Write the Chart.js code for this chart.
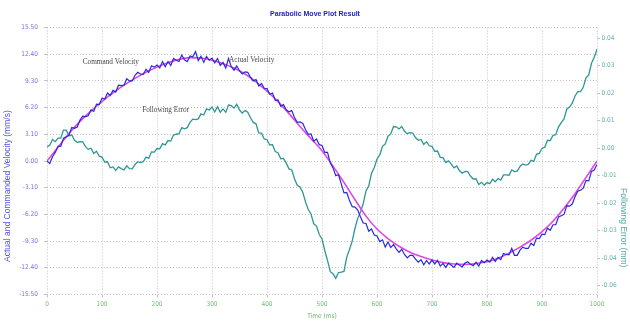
<!DOCTYPE html>
<html><head><meta charset="utf-8">
<script src="https://cdn.jsdelivr.net/npm/chart.js@4.4.1/dist/chart.umd.min.js"></script>
<style>html,body{margin:0;padding:0;background:#fff;overflow:hidden}canvas{display:block}</style>
</head><body><canvas id="c" width="630" height="321"></canvas>
<script>
// ---------- data ----------
const chartTitle = "Parabolic Move Plot Result";
const xAxisTitle = "Time (ms)";
const leftAxisTitle = "Actual and Commanded Velocity (mm/s)";
const rightAxisTitle = "Following Error (mm)";

const commandStepMs = 20;
const commandVelocity = [0, 1.6, 3.2, 4.6, 5.8, 6.9, 7.9, 8.8, 9.6, 10.3, 10.9, 11.4, 11.8, 12.0, 11.95, 11.7, 11.3, 10.8, 10.1, 9.2,
  8.1, 6.9, 5.5, 4.0, 2.6, 1.2, -0.6, -2.5, -4.5, -6.4, -7.9, -9.0, -9.9, -10.6, -11.1, -11.5, -11.8, -11.95, -12.0, -11.9,
  -11.7, -11.3, -10.7, -10.0, -9.2, -8.2, -7.0, -5.5, -3.8, -1.9, 0];

const sampleStepMs = 5;
const actualVelocity = [
  0, -0.3, 0.5, 1.0, 1.7, 1.7, 2.65, 2.8, 3.0, 3.9, 3.8, 3.95, 4.75, 5.2, 5.15, 5.25, 5.95, 5.75, 6.6, 6.55,
  7.3, 7.2, 7.9, 7.6, 8.2, 8.0, 8.8, 8.75, 8.8, 9.55, 9.3, 9.3, 9.95, 10.3, 10.1, 10.05, 10.65, 10.3, 11.05, 10.9,
  11.15, 10.8, 11.55, 10.95, 11.55, 11.1, 11.9, 11.7, 11.55, 12.3, 11.75, 11.55, 12.2, 12.1, 12.7, 11.65, 12.15, 11.45, 12.15, 11.7,
  11.95, 11.4, 11.9, 11.1, 11.45, 10.8, 11.9, 10.95, 10.55, 11.05, 10.45, 10.1, 10.35, 10.3, 9.7, 9.3, 9.45, 8.7, 9.0, 8.45,
  8.4, 7.75, 7.9, 7.05, 7.1, 6.35, 6.55, 5.95, 5.7, 5.85, 5.05, 4.5, 4.55, 4.35, 3.65, 3.1, 3.15, 2.3, 2.55, 1.9,
  1.8, 1.0, 1.0, -0.2, -0.8, -1.7, -1.6, -2.65, -3.7, -3.65, -4.6, -5.3, -5.35, -5.7, -6.5, -7.2, -7.25, -8.15, -7.9, -8.6,
  -8.7, -9.35, -9.15, -10.0, -9.4, -10.05, -9.7, -10.2, -10.6, -10.25, -10.85, -11.25, -10.95, -10.95, -11.4, -11.75, -11.45, -12.05, -11.55, -11.95,
  -11.5, -11.95, -11.55, -12.2, -11.9, -12.35, -11.85, -12.1, -12.35, -11.85, -12.1, -12.3, -11.85, -11.7, -12.0, -12.15, -11.75, -12.2, -11.55, -11.8,
  -11.5, -11.75, -11.2, -11.65, -11.2, -11.45, -10.75, -10.85, -10.9, -10.15, -10.95, -10.95, -10.35, -10.0, -10.15, -10.15, -9.55, -9.8, -8.95, -9.0,
  -8.5, -8.55, -7.8, -8.05, -7.4, -7.4, -6.5, -6.35, -6.2, -5.2, -5.25, -5.0, -4.15, -3.5, -3.4, -3.15, -2.25, -2.3, -1.2, -1.05,
  -0.4];

const followingError = [
  0.0005, 0.0011, 0.0032, 0.0024, 0.0037, 0.0037, 0.0066, 0.0066, 0.0045, 0.0049, 0.0029, 0.0021, 0.0024, 0.0023, 0.0006, -0.0004, 0.0000, -0.0019, -0.0011, -0.0029,
  -0.0032, -0.0050, -0.0049, -0.0071, -0.0068, -0.0081, -0.0068, -0.0074, -0.0079, -0.0064, -0.0074, -0.0075, -0.0059, -0.0049, -0.0052, -0.0049, -0.0032, -0.0037, -0.0013, -0.0014,
  -0.0001, -0.0002, 0.0017, 0.0012, 0.0028, 0.0026, 0.0048, 0.0051, 0.0053, 0.0075, 0.0071, 0.0075, 0.0094, 0.0106, 0.0104, 0.0107, 0.0125, 0.0121, 0.0143, 0.0139,
  0.0150, 0.0132, 0.0151, 0.0131, 0.0143, 0.0131, 0.0157, 0.0155, 0.0146, 0.0160, 0.0139, 0.0128, 0.0137, 0.0131, 0.0111, 0.0094, 0.0089, 0.0056, 0.0055, 0.0034,
  0.0031, 0.0012, 0.0013, -0.0012, -0.0016, -0.0038, -0.0037, -0.0054, -0.0075, -0.0079, -0.0111, -0.0135, -0.0141, -0.0160, -0.0195, -0.0223, -0.0239, -0.0275, -0.0283, -0.0314,
  -0.0330, -0.0372, -0.0408, -0.0449, -0.0456, -0.0473, -0.0452, -0.0451, -0.0448, -0.0396, -0.0368, -0.0337, -0.0291, -0.0255, -0.0232, -0.0201, -0.0155, -0.0137, -0.0091, -0.0071,
  -0.0039, -0.0024, 0.0007, 0.0016, 0.0044, 0.0052, 0.0079, 0.0078, 0.0070, 0.0079, 0.0062, 0.0053, 0.0057, 0.0055, 0.0039, 0.0029, 0.0032, 0.0014, 0.0024, 0.0009,
  0.0007, -0.0011, -0.0010, -0.0033, -0.0034, -0.0052, -0.0046, -0.0058, -0.0071, -0.0064, -0.0082, -0.0091, -0.0084, -0.0085, -0.0101, -0.0112, -0.0111, -0.0132, -0.0124, -0.0134,
  -0.0125, -0.0129, -0.0113, -0.0122, -0.0110, -0.0116, -0.0097, -0.0097, -0.0098, -0.0079, -0.0085, -0.0083, -0.0066, -0.0057, -0.0061, -0.0059, -0.0044, -0.0048, -0.0022, -0.0019,
  -0.0001, 0.0004, 0.0029, 0.0028, 0.0047, 0.0049, 0.0078, 0.0093, 0.0107, 0.0142, 0.0150, 0.0164, 0.0190, 0.0206, 0.0206, 0.0222, 0.0256, 0.0267, 0.0309, 0.0331,
  0.0360];

const xTickValues = [0, 100, 200, 300, 400, 500, 600, 700, 800, 900, 1000];
const xTickLabels = ["0", "100", "200", "300", "400", "500", "600", "700", "800", "900", "1000"];
const leftTickValues = [15.5, 12.4, 9.3, 6.2, 3.1, 0, -3.1, -6.2, -9.3, -12.4, -15.5];
const leftTickLabels = ["15.50", "12.40", "9.30", "6.20", "3.10", "0.00", "-3.10", "-6.20", "-9.30", "-12.40", "-15.50"];
const rightTickValues = [0.04, 0.03, 0.02, 0.01, 0, -0.01, -0.02, -0.03, -0.04, -0.05];
const rightTickLabels = ["0.04", "0.03", "0.02", "0.01", "0.00", "-0.01", "-0.02", "-0.03", "-0.04", "-0.06"];

const noteTexts = ["Command Velocity", "Actual Velocity", "Following Error"];

// ---------- style / layout ----------
const SANS = "'Liberation Sans Narrow','DejaVu Sans Condensed','Liberation Sans',Arial,sans-serif";
const SANSW = "'Liberation Sans',Arial,sans-serif";
const GRID = '#c2c2c2';
const notePos = [{t: 65, v: 11.5}, {t: 331, v: 11.7}, {t: 173, v: 5.9}];

const toPoints = (vals, step) => vals.map((y, i) => ({x: i * step, y}));

const decorPlugin = {
  id: 'decor',
  afterDatasetsDraw(chart) {
    const {ctx, scales, chartArea} = chart;
    ctx.save();
    ctx.font = "7.25px 'Liberation Serif','Times New Roman',serif";
    ctx.fillStyle = '#484848';
    ctx.textAlign = 'left';
    ctx.textBaseline = 'middle';
    noteTexts.forEach((t, i) => {
      ctx.fillText(t, scales.x.getPixelForValue(notePos[i].t), scales.y.getPixelForValue(notePos[i].v));
    });
    const h = chartArea.bottom - chartArea.top;
    ctx.font = "8.5px " + SANSW;
    ctx.textAlign = 'center';
    ctx.fillStyle = '#5454e6';
    ctx.save();
    ctx.translate(8, chartArea.top + h * 0.594);
    ctx.rotate(-Math.PI / 2);
    ctx.fillText(leftAxisTitle, 0, 0);
    ctx.restore();
    ctx.fillStyle = '#58aaaa';
    ctx.save();
    ctx.translate(623, chartArea.top + h * 0.75);
    ctx.rotate(Math.PI / 2);
    ctx.fillText(rightAxisTitle, 0, 0);
    ctx.restore();
    ctx.restore();
  }
};

new Chart(document.getElementById('c').getContext('2d'), {
  type: 'line',
  data: {
    datasets: [
      {label: 'Actual Velocity', data: toPoints(actualVelocity, sampleStepMs), borderColor: '#2a2ad8', borderWidth: 1.2, pointRadius: 0, yAxisID: 'y', tension: 0},
      {label: 'Command Velocity', data: toPoints(commandVelocity, commandStepMs), borderColor: '#e046e6', borderWidth: 1.6, pointRadius: 0, yAxisID: 'y', cubicInterpolationMode: 'monotone'},
      {label: 'Following Error', data: toPoints(followingError, sampleStepMs), borderColor: '#2f9696', borderWidth: 1.3, pointRadius: 0, yAxisID: 'y2', tension: 0}
    ]
  },
  options: {
    responsive: false, animation: false, devicePixelRatio: 1,
    layout: {padding: 0},
    plugins: {
      legend: {display: false}, tooltip: {enabled: false},
      title: {display: true, text: chartTitle, color: '#2222c4', font: {family: SANSW, size: 7, weight: 'bold', lineHeight: 1.2}, padding: {top: 9.8, bottom: 9.3}}
    },
    scales: {
      x: {
        type: 'linear', min: 0, max: 1000,
        afterBuildTicks: s => { s.ticks = xTickValues.map(v => ({value: v})); },
        afterFit: s => { s.height = 26.5; },
        ticks: {callback: (v, i) => xTickLabels[i], color: '#78bc78', font: {family: SANS, size: 6.5}, padding: 2.5, maxRotation: 0, autoSkip: false},
        grid: {color: GRID, tickLength: 3, lineWidth: 1},
        border: {display: false, dash: [1, 2]},
        title: {display: true, text: xAxisTitle, color: '#6ab46a', font: {family: SANS, size: 6.5}, padding: {top: 0, bottom: 1.1}}
      },
      y: {
        position: 'left', min: -15.5, max: 15.5,
        afterBuildTicks: s => { s.ticks = leftTickValues.map(v => ({value: v})); },
        afterFit: s => { s.width = 47; },
        ticks: {callback: (v, i) => leftTickLabels[i], color: '#7474e8', font: {family: SANS, size: 6.5}, padding: 6, autoSkip: false},
        grid: {color: GRID, tickLength: 3},
        border: {display: false, dash: [1, 2]}
      },
      y2: {
        position: 'right', min: -0.0532, max: 0.04393,
        afterBuildTicks: s => { s.ticks = rightTickValues.map(v => ({value: v})); },
        afterFit: s => { s.width = 33; },
        ticks: {callback: (v, i) => rightTickLabels[i], color: '#62b0b0', font: {family: SANS, size: 6.5}, padding: 1.5, autoSkip: false},
        grid: {drawOnChartArea: false, color: GRID, tickLength: 3},
        border: {display: false, dash: [1, 2]}
      }
    }
  },
  plugins: [decorPlugin]
});
</script>
</body></html>
